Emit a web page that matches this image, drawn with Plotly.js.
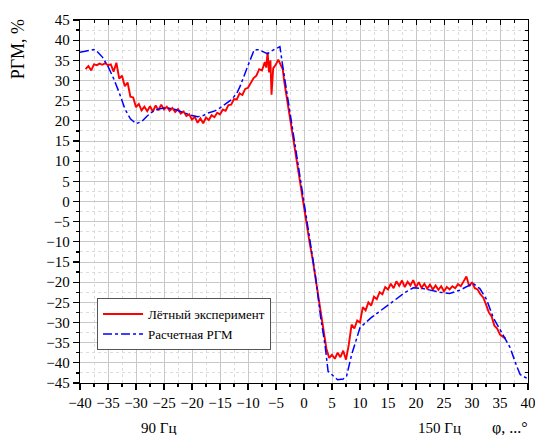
<!DOCTYPE html>
<html><head><meta charset="utf-8">
<script src="https://cdn.plot.ly/plotly-3.0.1.min.js"></script>
<style>html,body{margin:0;padding:0;background:#fff}#chart{width:535px;height:435px}</style>
</head><body><div id="chart"></div>
<script>
// Лётный эксперимент (red)
const expX = [-39,-38.5,-38,-37.5,-37,-36.5,-36,-35.5,-35,-34.5,-34,-33.5,-33,-32.5,-32,-31.5,-31,-30.5,-30,-29.5,
  -29,-28.5,-28,-27.5,-27,-26.5,-26,-25.5,-25,-24.5,-24,-23.5,-23,-22.5,-22,-21.5,-21,-20.5,-20,-19.5,
  -19,-18.5,-18,-17.5,-17,-16.5,-16,-15.5,-15,-14.5,-14,-13.5,-13,-12.5,-12,-11.5,-11,-10.5,-10,-9.5,
  -9,-8.5,-8,-7.5,-7,-6.75,-6.5,-6.25,-6,-5.8,-5.5,-5,-4.6,-4.2,-3.8,-3.5,-3,-2.5,-2,-1.5,
  -1,-0.5,0,0.5,1,1.5,2,2.5,3,3.5,4,4.5,5,5.5,6,6.5,7,7.5,8,8.5,
  9,9.5,10,10.5,11,11.5,12,12.5,13,13.5,14,14.5,15,15.5,16,16.5,17,17.5,18,18.5,
  19,19.5,20,20.5,21,21.5,22,22.5,23,23.5,24,24.5,25,25.5,26,26.5,27,27.5,28,28.5,
  29,29.5,30,30.5,31,31.5,32,32.5,33,33.5,34,34.5,35,35.5,36];
const expY = [32.8,33.6,32.5,34.0,33.8,34.2,33.9,34.3,33.8,34.0,32.2,34.4,30.5,31.2,28.6,29.5,26.0,25.8,23.4,24.2,
  22.6,23.5,22.4,23.6,22.3,23.8,22.6,24.0,22.8,23.5,22.5,23.2,22.2,22.9,21.8,22.3,21.2,21.6,20.3,21.0,
  19.5,20.6,19.4,20.8,20.2,21.4,20.9,22.0,21.6,22.8,22.5,23.9,24.0,25.4,25.3,26.8,26.4,27.9,28.2,29.3,
  30.6,31.2,32.8,32.5,34.6,33.2,37.0,32.0,35.0,26.5,33.0,34.0,35.2,34.0,32.8,29.5,25.0,20.5,16.0,11.5,
  7.0,2.5,-1.8,-6.0,-10.2,-14.0,-18.5,-23.5,-28.5,-33.0,-36.5,-38.8,-38.0,-39.0,-37.5,-38.6,-37.0,-39.2,-35.5,-30.5,
  -31.5,-29.5,-30.0,-26.2,-27.0,-25.0,-25.8,-23.6,-24.2,-22.5,-23.0,-21.2,-21.8,-20.4,-21.5,-19.8,-20.9,-19.6,-21.2,-19.9,
  -20.8,-19.5,-21.3,-20.0,-21.4,-20.4,-21.6,-20.6,-21.8,-20.8,-21.9,-21.0,-22.3,-21.2,-21.8,-21.0,-21.5,-20.5,-21.0,-19.8,
  -18.6,-21.0,-20.0,-21.5,-21.8,-23.0,-23.8,-25.5,-27.5,-28.5,-30.8,-31.5,-33.0,-33.5,-34.0];
// Расчетная РГМ (blue)
const calcX = [-40,-39,-38,-37.5,-37,-36,-35,-34,-33,-32,-31,-30,-29,-28,-27,-26,-25,-24,-23,-22,
  -21,-20,-19,-18,-17,-16,-15,-14,-13,-12,-11.4,-10.2,-8.9,-8,-7,-6.5,-6,-5,-4.3,-3.8,
  -3,-2,-1,0,1,2,3,3.75,4.3,5,6,7,7.6,8.5,10,12,14,16,18,19.5,
  21.3,24.3,26,27.8,30.2,31.4,32.6,33.8,35,36.8,38,38.6,40];
const calcY = [37.0,37.3,37.6,37.7,37.3,35.8,33.5,30.5,27.0,23.0,20.5,19.3,19.8,21.2,22.3,22.9,23.2,23.1,22.8,22.3,
  21.8,21.3,21.0,21.3,22.0,22.4,23.2,24.2,25.2,26.8,28.6,33.0,37.6,37.6,36.8,36.6,37.2,38.0,38.4,33.6,
  26.5,18.0,9.0,0.5,-8.5,-18.0,-29.0,-35.5,-42.1,-43.0,-44.2,-44.0,-43.3,-38.0,-31.3,-28.8,-26.8,-24.7,-22.6,-21.4,
  -21.6,-22.5,-22.8,-22.0,-20.3,-21.6,-24.3,-28.8,-31.8,-36.2,-40.9,-42.9,-44.0];
const seriesNames = ['Лётный эксперимент','Расчетная РГМ'];
const xTicks = [-40,-35,-30,-25,-20,-15,-10,-5,0,5,10,15,20,25,30,35,40];
const yTicks = [45,40,35,30,25,20,15,10,5,0,-5,-10,-15,-20,-25,-30,-35,-40,-45];

const font = {family:'Liberation Serif', color:'#000'};
const traces = [
  {x:expX, y:expY, name:seriesNames[0], mode:'lines', line:{color:'#ff0000', width:1.9}},
  {x:calcX, y:calcY, name:seriesNames[1], mode:'lines', line:{color:'#0000ff', width:1.5, dash:'dashdot'}},
  {x:[], y:[], xaxis:'x2', yaxis:'y2', showlegend:false, hoverinfo:'skip'}
];
const baseX = {range:[-40,40], tickvals:xTicks, zeroline:false, showline:true, linecolor:'#000', linewidth:1.3};
const baseY = {range:[-45,45], tickvals:yTicks, zeroline:false, showline:true, linecolor:'#000', linewidth:1.3};
const layout = {
  width:535, height:435,
  margin:{l:80, r:7, t:20, b:52},
  paper_bgcolor:'#fff', plot_bgcolor:'#fff',
  font:{family:'Liberation Serif', size:14, color:'#000'},
  showlegend:true,
  legend:{x:0.038, y:0.234, xanchor:'left', yanchor:'top', bgcolor:'#fff', bordercolor:'#555', borderwidth:1,
    font:{family:'Liberation Serif', size:13, color:'#000'}, tracegroupgap:0, itemwidth:40},
  xaxis:Object.assign({}, baseX, {ticks:'outside', ticklen:6, tickwidth:1.2, tickcolor:'#000',
    showgrid:true, gridcolor:'#c8c8c8', gridwidth:1, ticklabeloverflow:'allow',
    tickfont:{family:'Liberation Serif', size:15, color:'#000'},
    minor:{dtick:2.5, ticks:'outside', ticklen:3, tickcolor:'#000', showgrid:true, gridcolor:'#dcdcdc', griddash:'3px,3px'}}),
  yaxis:Object.assign({}, baseY, {ticks:'outside', ticklen:6, tickwidth:1.2, tickcolor:'#000',
    showgrid:true, gridcolor:'#c8c8c8', gridwidth:1, ticklabeloverflow:'allow',
    tickfont:{family:'Liberation Serif', size:15, color:'#000'},
    minor:{dtick:2.5, ticks:'outside', ticklen:3, tickcolor:'#000', showgrid:true, gridcolor:'#dcdcdc', griddash:'3px,3px'}}),
  xaxis2:Object.assign({}, baseX, {overlaying:'x', side:'top', anchor:'y2', ticks:'inside', ticklen:5, tickcolor:'#000',
    showticklabels:false, showgrid:false, minor:{dtick:2.5, ticks:'inside', ticklen:3, tickcolor:'#000'}}),
  yaxis2:Object.assign({}, baseY, {overlaying:'y', side:'right', anchor:'x2', ticks:'inside', ticklen:5, tickcolor:'#000',
    showticklabels:false, showgrid:false, minor:{dtick:2.5, ticks:'inside', ticklen:3, tickcolor:'#000'}}),
  annotations:[
    {text:'РГМ, %', xref:'paper', yref:'paper', x:-0.138, y:0.92, xanchor:'center', yanchor:'middle', textangle:-90,
      showarrow:false, font:{family:'Liberation Serif', size:18, color:'#000'}},
    {text:'90 Гц', xref:'paper', yref:'paper', x:0.175, y:-0.125, xanchor:'center', yanchor:'middle',
      showarrow:false, font:{family:'Liberation Serif', size:15, color:'#000'}},
    {text:'150 Гц', xref:'paper', yref:'paper', x:0.803, y:-0.125, xanchor:'center', yanchor:'middle',
      showarrow:false, font:{family:'Liberation Serif', size:15, color:'#000'}},
    {text:'φ, ...°', xref:'paper', yref:'paper', x:0.96, y:-0.125, xanchor:'center', yanchor:'middle',
      showarrow:false, font:{family:'Liberation Serif', size:16, color:'#000'}}
  ]
};
Plotly.newPlot('chart', traces, layout, {displayModeBar:false, staticPlot:true});
</script></body></html>
